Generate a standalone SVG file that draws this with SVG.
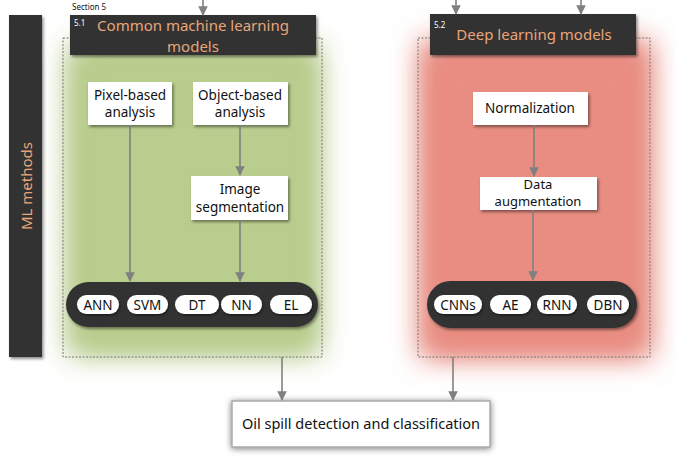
<svg xmlns="http://www.w3.org/2000/svg" width="676" height="470" viewBox="0 0 676 470">
<defs>
<style>
.t{font-family:"Noto Sans","Open Sans",sans-serif;fill:#111;text-anchor:middle}
.title{font-family:"Noto Sans","Open Sans",sans-serif;fill:#e9a57a;text-anchor:middle;font-size:15px}
.num{font-family:"Noto Sans","Open Sans",sans-serif;fill:#fff;font-size:8px}
.box{fill:#fff;filter:url(#sh)}
.dark{fill:#333;filter:url(#sh)}
.pill{fill:#fff;filter:url(#psh)}
.pt{font-family:"Noto Sans","Open Sans",sans-serif;fill:#111;text-anchor:middle;font-size:13.5px}
.dash{fill:none;stroke:#777;stroke-width:1;stroke-dasharray:2 1.5}
.ln{stroke:#808080;stroke-width:1.6;fill:none;marker-end:url(#ah)}
</style>
<marker id="ah" viewBox="0 0 10 10" refX="9" refY="5" markerWidth="7" markerHeight="6" markerUnits="strokeWidth" orient="auto"><path d="M0,0 L10,5 L0,10 z" fill="#808080"/></marker>
<filter id="sh" x="-20%" y="-30%" width="140%" height="160%"><feDropShadow dx="1.5" dy="2" stdDeviation="1.8" flood-color="#000" flood-opacity="0.45"/></filter>
<filter id="osh" x="-20%" y="-40%" width="140%" height="180%"><feDropShadow dx="0" dy="1" stdDeviation="3" flood-color="#555" flood-opacity="0.8"/></filter>
<filter id="psh" x="-20%" y="-30%" width="140%" height="160%"><feDropShadow dx="1" dy="1.5" stdDeviation="1" flood-color="#000" flood-opacity="0.5"/></filter>
<filter id="blur" x="-40%" y="-40%" width="180%" height="180%"><feGaussianBlur stdDeviation="14"/></filter>
</defs>
<rect width="676" height="470" fill="#fff"/>
<!-- backgrounds -->
<rect x="68" y="45" width="252" height="310" fill="#b2c885" filter="url(#blur)"/>
<rect x="78" y="55" width="232" height="290" fill="#b9ce8e" filter="url(#blur)"/>
<rect x="420" y="40" width="232" height="318" fill="#e6877b" filter="url(#blur)"/>
<rect x="430" y="52" width="210" height="296" fill="#e98d82" filter="url(#blur)"/>
<text x="72" y="10" font-family="Noto Sans,Open Sans,sans-serif" font-size="8" fill="#111">Section 5</text>
<g id="ml-methods">
<rect x="9" y="15" width="33" height="342" class="dark"/>
<text class="title" transform="translate(32,186) rotate(-90)" font-size="17">ML methods</text>
</g>
<g id="group-5-1">
<rect x="63" y="38" width="259" height="319" class="dash"/>
<rect x="70" y="15" width="246" height="40" class="dark"/>
<text x="74" y="26" class="num">5.1</text>
<text x="193" y="31" class="title">Common machine learning</text>
<text x="193" y="52" class="title">models</text>
</g>
<g id="group-5-2">
<rect x="418" y="38" width="232" height="319" class="dash"/>
<rect x="430" y="14" width="206" height="41" class="dark"/>
<text x="434" y="28" class="num">5.2</text>
<text x="534" y="40" class="title">Deep learning models</text>
</g>
<g id="pixel">
<rect x="88" y="82" width="84" height="43" class="box"/>
<text x="130" y="100" class="t" font-size="13.5">Pixel-based</text>
<text x="130" y="117" class="t" font-size="13.5">analysis</text>
</g>
<g id="object">
<rect x="193" y="82" width="95" height="43" class="box"/>
<text x="240" y="100" class="t" font-size="13.5">Object-based</text>
<text x="240" y="117" class="t" font-size="13.5">analysis</text>
</g>
<g id="segmentation">
<rect x="191" y="176" width="97" height="44" class="box"/>
<text x="240" y="194" class="t" font-size="13.5">Image</text>
<text x="240" y="212" class="t" font-size="13.5">segmentation</text>
</g>
<g id="normalization">
<rect x="473" y="92" width="115" height="33" class="box"/>
<text x="530" y="113" class="t" font-size="13.5">Normalization</text>
</g>
<g id="augmentation">
<rect x="480" y="177" width="117" height="33" class="box"/>
<text x="538" y="189" class="t" font-size="13">Data</text>
<text x="538" y="206" class="t" font-size="13">augmentation</text>
</g>
<g id="ml-models">
<rect x="66" y="282" width="252" height="45" rx="22.5" class="dark"/>
<rect x="77" y="295" width="42" height="19" rx="9.5" class="pill"/><text x="98" y="309.5" class="pt">ANN</text>
<rect x="127" y="295" width="41" height="19" rx="9.5" class="pill"/><text x="147.5" y="309.5" class="pt">SVM</text>
<rect x="175" y="295" width="44" height="19" rx="9.5" class="pill"/><text x="197" y="309.5" class="pt">DT</text>
<rect x="221" y="295" width="41" height="19" rx="9.5" class="pill"/><text x="241.5" y="309.5" class="pt">NN</text>
<rect x="270" y="295" width="42" height="19" rx="9.5" class="pill"/><text x="291" y="309.5" class="pt">EL</text>
</g>
<g id="dl-models">
<rect x="427" y="281" width="210" height="47" rx="23.5" class="dark"/>
<rect x="434" y="295" width="48" height="19" rx="9.5" class="pill"/><text x="458" y="309.5" class="pt">CNNs</text>
<rect x="490" y="295" width="41" height="19" rx="9.5" class="pill"/><text x="510.5" y="309.5" class="pt">AE</text>
<rect x="537" y="295" width="40" height="19" rx="9.5" class="pill"/><text x="557" y="309.5" class="pt">RNN</text>
<rect x="587" y="295" width="42" height="19" rx="9.5" class="pill"/><text x="608" y="309.5" class="pt">DBN</text>
</g>
<g id="output">
<rect x="232" y="401" width="258" height="46" fill="#fff" stroke="#aaa" stroke-width="1.5" filter="url(#osh)"/>
<text x="361" y="429" class="t" font-size="14.5">Oil spill detection and classification</text>
</g>
<g id="connectors">
<line x1="203" y1="0" x2="203" y2="15" class="ln"/>
<line x1="456" y1="0" x2="456" y2="14" class="ln"/>
<line x1="581" y1="0" x2="581" y2="14" class="ln"/>
<line x1="130" y1="125" x2="130" y2="281" class="ln"/>
<line x1="240" y1="125" x2="240" y2="175" class="ln"/>
<line x1="240" y1="220" x2="240" y2="281" class="ln"/>
<line x1="534" y1="125" x2="534" y2="176" class="ln"/>
<line x1="533" y1="210" x2="533" y2="280" class="ln"/>
<line x1="282" y1="357" x2="282" y2="400" class="ln"/>
<line x1="453" y1="357" x2="453" y2="400" class="ln"/>
</g>
</svg>
